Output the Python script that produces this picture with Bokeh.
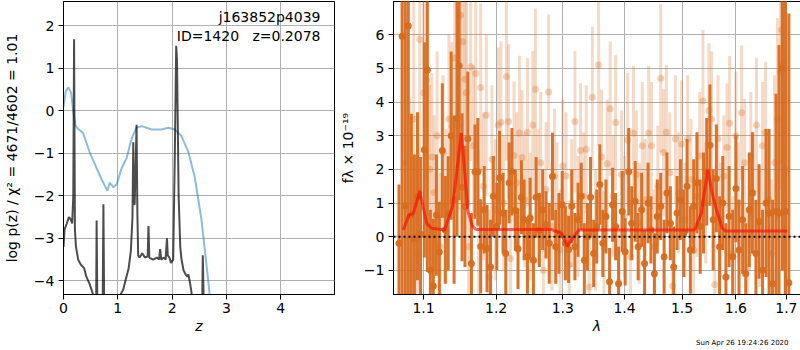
from bokeh.plotting import figure
from bokeh.layouts import row
from bokeh.models import (Range1d, FixedTicker, CustomJSTickFormatter, Label,
                          ColumnDataSource, Span, Title)
from bokeh.embed import file_html
from bokeh.resources import INLINE

# ---------------- left panel data: redshift PDF ----------------
pz_z = [0.00, 0.02, 0.06, 0.10, 0.13, 0.16, 0.18, 0.195, 0.21, 0.23, 0.27, 0.32,
        0.38, 0.42, 0.48, 0.54, 0.58, 0.60, 0.61, 0.625, 0.66, 0.70, 0.72, 0.735,
        0.75, 0.80, 0.90, 1.00, 1.04, 1.10, 1.15, 1.20, 1.24, 1.27, 1.285, 1.30,
        1.31, 1.325, 1.345, 1.36, 1.375, 1.40, 1.45, 1.50, 1.55, 1.565, 1.58, 1.65,
        1.72, 1.76, 1.78, 1.80, 1.85, 1.88, 1.905, 1.92, 1.95, 1.98, 2.02, 2.05,
        2.075, 2.09, 2.12, 2.15, 2.17, 2.21, 2.25, 2.28, 2.30, 2.33, 2.36, 2.40,
        2.50, 2.555, 2.565, 2.58, 2.62]
pz_log = [-3.2, -2.79, -2.65, -2.50, -2.55, -2.65, -2.0, 1.68, -2.8, -3.2, -3.5, -3.62,
          -3.7, -3.9, -4.07, -4.3, -4.6, -4.8, -2.58, -4.8, -5.2, -5.2, -4.8, -2.2,
          -4.8, -5.3, -5.4, -4.5, -4.35, -4.2, -3.95, -3.7, -3.3, -2.5, -0.74, -2.2,
          -2.2, -1.5, -0.33, -2.4, -3.4, -3.45, -3.35, -3.45, -3.42, -2.71, -3.45, -3.5,
          -3.45, -3.5, -3.25, -3.5, -3.45, -3.5, -3.0, -3.4, -3.45, -3.58, -3.5, -1.0,
          1.53, 1.2, -2.0, -3.2, -3.47, -3.75, -3.85, -3.9, -3.85, -4.05, -4.3, -4.6,
          -4.8, -4.4, -3.4, -4.4, -5.0]

prior_z = [0.00, 0.04, 0.09, 0.14, 0.18, 0.22, 0.27, 0.36, 0.48, 0.61, 0.70, 0.81,
           0.85, 0.92, 0.98, 1.07, 1.16, 1.25, 1.34, 1.44, 1.62, 1.80, 1.93, 2.05,
           2.17, 2.30, 2.42, 2.54, 2.62, 2.69, 2.80]
prior_log = [0.09, 0.45, 0.55, 0.42, -0.02, -0.35, -0.43, -0.52, -0.97, -1.35, -1.61, -1.88,
             -1.69, -1.80, -1.73, -1.35, -1.12, -0.67, -0.40, -0.36, -0.44, -0.44, -0.40, -0.44,
             -0.59, -0.97, -1.58, -2.56, -3.47, -4.3, -5.5]

# ---------------- right panel data: spectrum ----------------
d_wave = [1.068, 1.072, 1.076, 1.080, 1.084, 1.088, 1.092, 1.096, 1.101, 1.105,
          1.109, 1.113, 1.117, 1.121, 1.125, 1.129, 1.133, 1.137, 1.141, 1.145,
          1.148, 1.152, 1.156, 1.160, 1.165, 1.170, 1.174, 1.178, 1.183, 1.187,
          1.192, 1.196, 1.201, 1.205, 1.210, 1.214, 1.219, 1.223, 1.228, 1.232,
          1.237, 1.241, 1.246, 1.250, 1.255, 1.259, 1.264, 1.269, 1.274, 1.279,
          1.284, 1.289, 1.294, 1.299, 1.304, 1.309, 1.314, 1.319, 1.324, 1.329,
          1.334, 1.339, 1.344, 1.349, 1.354, 1.359, 1.364, 1.369, 1.375, 1.380,
          1.385, 1.390, 1.396, 1.401, 1.407, 1.412, 1.418, 1.423, 1.429, 1.434,
          1.440, 1.445, 1.451, 1.456, 1.462, 1.468, 1.473, 1.479, 1.485, 1.491,
          1.497, 1.503, 1.509, 1.515, 1.521, 1.527, 1.533, 1.539, 1.545, 1.551,
          1.557, 1.563, 1.569, 1.575, 1.581, 1.587, 1.594, 1.600, 1.606, 1.613,
          1.619, 1.626, 1.632, 1.639, 1.645, 1.652, 1.659, 1.665, 1.672, 1.679,
          1.685, 1.692, 1.698, 1.705]
d_flux = [-0.2, 5.96, 0.92, 6.26, 0.65, -0.06, 1.2, 0.07, 2.58, 4.95,
          -1.0, -1.47, 0.64, -0.46, 2.56, 0.2, 0.69, 3.0, 1.1, 3.51,
          5.08, 1.47, 0.9, 2.91, -0.8, 1.93, 1.93, -0.29, 0.8, -0.35,
          -0.9, 1.2, 0.3, 1.75, 0.7, -0.5, 1.6, 1.93, 0.78, -0.36,
          1.17, 0.5, -0.6, 0.55, -0.7, 1.17, 0.2, 0.8, 0.35, -0.2,
          1.79, -0.3, 0.1, 0.95, -0.2, -0.38, 0.9, -0.3, 0.5, 1.2,
          -0.7, 0.0, 1.17, -0.5, 0.3, 1.55, -0.2, 0.6, -1.34, 0.95,
          0.3, -1.4, 0.75, -0.45, 1.93, 0.4, 1.05, -0.3, 0.8, -0.8,
          1.0, 0.2, -1.1, 0.6, 0.9, -0.6, 1.3, 0.4, -0.9, 0.7,
          1.1, 0.1, 1.5, -0.4, 0.9, 1.6, 0.3, 1.0, 1.93, 2.72,
          0.5, 1.73, -0.3, 1.0, -1.2, 0.6, -0.6, 1.43, -0.4, 0.5,
          -1.1, 0.8, 1.3, -0.5, 0.45, -1.0, 1.0, 0.7, -1.4, 0.75,
          0.7, 5.0, 0.75, -1.37]
d_err = [1.75, 9.0, 8.0, 8.0, 3.0, 2.5, 2.5, 2.3, 3.2, 6.0,
         1.8, 2.0, 1.8, 1.5, 2.0, 1.6, 1.7, 2.5, 2.5, 3.5,
         4.0, 2.2, 1.8, 2.0, 1.5, 1.4, 1.6, 1.4, 1.3, 1.3,
         1.4, 1.2, 1.3, 1.4, 1.2, 1.3, 1.2, 1.3, 1.2, 1.2,
         1.1, 1.2, 1.1, 1.2, 1.1, 1.2, 1.1, 1.2, 1.0, 1.2,
         1.3, 1.1, 1.2, 1.0, 1.1, 1.0, 1.1, 1.0, 1.1, 1.0,
         1.1, 1.0, 1.2, 1.0, 1.1, 1.2, 1.0, 1.1, 1.0, 1.1,
         1.0, 1.1, 1.2, 1.0, 1.3, 1.1, 1.2, 1.0, 1.1, 1.0,
         1.2, 1.0, 1.2, 1.1, 1.0, 1.1, 1.2, 1.1, 1.2, 1.1,
         1.2, 1.3, 1.4, 1.3, 1.4, 1.5, 1.4, 1.5, 1.6, 1.8,
         1.5, 1.6, 1.5, 1.4, 1.6, 1.5, 1.4, 1.6, 1.5, 1.6,
         1.5, 1.7, 1.8, 1.6, 1.7, 1.8, 2.2, 2.5, 2.5, 3.5,
         5.0, 6.0, 8.0, 8.0]

l_wave = [1.077, 1.082, 1.087, 1.092, 1.095, 1.100, 1.104, 1.108, 1.111, 1.114,
          1.118, 1.122, 1.126, 1.130, 1.134, 1.138, 1.142, 1.147, 1.150, 1.153,
          1.156, 1.158, 1.161, 1.164, 1.168, 1.171, 1.175, 1.178, 1.182, 1.186,
          1.190, 1.194, 1.199, 1.203, 1.207, 1.211, 1.215, 1.218, 1.221, 1.226,
          1.230, 1.234, 1.238, 1.242, 1.246, 1.250, 1.254, 1.258, 1.262, 1.266,
          1.270, 1.274, 1.278, 1.283, 1.287, 1.291, 1.296, 1.300, 1.305, 1.310,
          1.314, 1.319, 1.324, 1.328, 1.333, 1.337, 1.342, 1.347, 1.352, 1.357,
          1.362, 1.366, 1.371, 1.376, 1.381, 1.385, 1.390, 1.395, 1.400, 1.405,
          1.410, 1.415, 1.420, 1.425, 1.430, 1.435, 1.441, 1.446, 1.451, 1.457,
          1.462, 1.467, 1.472, 1.478, 1.483, 1.488, 1.494, 1.499, 1.505, 1.510,
          1.516, 1.521, 1.527, 1.532, 1.538, 1.543, 1.549, 1.554, 1.560, 1.566,
          1.571, 1.577, 1.583, 1.588, 1.594, 1.600, 1.605, 1.611, 1.617, 1.623,
          1.629, 1.634, 1.640, 1.646, 1.652, 1.658, 1.664, 1.670, 1.676, 1.682,
          1.688, 1.690, 1.693, 1.697]
l_flux = [2.2, 0.6, 3.5, -0.5, 5.86, 4.28, 4.66, 2.0, 2.37, 1.31,
          3.0, -0.3, 2.5, 0.9, 3.5, 3.28, 5.31, 3.3, 6.58, 5.79,
          4.68, 4.28, -0.3, 5.05, 2.7, 4.85, 0.4, 4.43, 1.5, 3.61,
          -1.2, 2.3, 0.8, 3.32, 3.4, 1.0, 4.76, 3.42, -0.65, 2.41,
          1.6, 3.08, 2.35, 1.1, 3.1, 0.6, 3.32, 4.38, 1.2, 2.2,
          -1.0, 1.4, 4.3, 0.3, 1.8, 0.9, -0.4, 2.1, 1.8, -0.85,
          1.0, 3.42, 0.6, 2.56, 1.2, 2.6, -1.5, 4.14, 0.2, 5.1,
          2.37, -0.35, 2.17, 3.8, 1.2, 3.39, -1.36, 1.85, 0.6, 2.87,
          -0.6, 3.08, 1.85, 0.4, 2.7, 1.1, 3.08, 2.7, -0.3, 1.5,
          4.71, 2.5, 3.1, 1.9, -1.47, 2.9, 1.3, 2.75, 0.5, 2.9,
          1.7, -0.4, 1.2, 2.4, 4.04, 1.0, 3.75, 3.5, -1.42, 2.9,
          0.5, 1.8, 2.65, 3.37, -0.5, 3.0, 1.0, 3.68, 2.2, -0.9,
          2.4, 1.3, 3.32, 0.3, 2.7, 3.1, 1.1, -0.5, 2.2, 3.5,
          4.9, 6.15, 5.14, 2.0]
l_err = [4.5, 3.5, 3.5, 2.8, 3.5, 3.0, 3.0, 2.5, 2.5, 2.3,
         2.5, 2.2, 2.3, 2.3, 2.5, 2.5, 3.0, 2.5, 3.0, 3.0,
         3.0, 2.7, 2.3, 2.8, 2.4, 2.7, 2.2, 2.5, 2.2, 2.4,
         2.0, 2.2, 2.1, 2.3, 2.4, 2.0, 2.5, 2.3, 2.0, 2.2,
         2.1, 2.3, 2.0, 2.0, 2.2, 1.9, 2.2, 2.4, 2.0, 2.1,
         1.8, 2.0, 2.3, 1.9, 2.0, 1.9, 1.8, 2.0, 1.9, 1.7,
         1.9, 2.1, 1.8, 2.0, 1.9, 1.9, 1.8, 2.1, 1.8, 2.4,
         2.0, 1.7, 1.9, 2.0, 1.8, 2.0, 1.7, 1.9, 1.8, 2.0,
         1.7, 2.0, 1.9, 1.8, 1.9, 1.8, 2.0, 1.9, 1.7, 1.8,
         2.2, 1.9, 2.0, 1.8, 1.6, 1.9, 1.8, 1.9, 1.7, 1.9,
         1.8, 1.7, 1.8, 1.9, 2.1, 1.8, 2.0, 2.0, 1.7, 1.9,
         1.7, 1.8, 1.9, 2.0, 1.7, 1.9, 1.8, 2.0, 1.9, 1.7,
         1.9, 1.8, 2.0, 1.8, 1.9, 2.1, 2.0, 2.2, 2.6, 3.0,
         3.5, 4.0, 4.5, 5.0]

model_wave = [1.0735, 1.0807, 1.0865, 1.095, 1.104, 1.1106, 1.128, 1.1327, 1.139, 1.1445,
              1.151, 1.1557, 1.160, 1.1666, 1.172, 1.2825, 1.298, 1.307, 1.317, 1.3254,
              1.5228, 1.535, 1.5405, 1.547, 1.555, 1.5632, 1.574, 1.580, 1.7015]
model_flux = [0.2, 0.64, 0.69, 1.36, 0.4, 0.25, 0.2, 0.5, 0.9, 1.9,
              3.08, 1.9, 0.76, 0.3, 0.21, 0.21, 0.1, -0.29, 0.0, 0.2,
              0.2, 0.69, 1.3, 1.98, 1.3, 0.8, 0.25, 0.17, 0.17]

obj_name = "j163852p4039"
obj_info = "ID=1420\u00a0\u00a0\u00a0z=0.2078"
stamp = "Sun Apr 26 19:24:26 2020"

FONT = "DejaVu Sans"
ORANGE = "#d86c1e"
GRID = "#b0b0b0"
FH = 293      # frame height
BB = 56       # bottom border


def style(p):
    p.outline_line_color = "black"
    p.outline_line_width = 1
    p.outline_line_alpha = 1
    p.grid.grid_line_color = GRID
    p.grid.grid_line_width = 1
    for ax in p.axis:
        ax.axis_line_color = "black"
        ax.major_tick_line_color = "black"
        ax.major_tick_out = 5
        ax.major_tick_in = 0
        ax.minor_tick_line_color = None
        ax.major_label_text_font = FONT
        ax.major_label_text_font_size = "14px"
        ax.major_label_text_color = "black"
        ax.axis_label_text_font = FONT
        ax.axis_label_text_font_size = "14px"
        ax.axis_label_text_color = "black"
        ax.axis_label_text_font_style = "normal"
        ax.major_label_standoff = 4


minus_fmt = "return (tick < 0 ? '\u2212' : '') + Math.abs(tick).toString();"

# ---------------- left figure ----------------
p1 = figure(frame_width=271, frame_height=FH, min_border_left=62, min_border_right=1,
            min_border_top=1, min_border_bottom=BB,
            x_range=Range1d(0, 4.99), y_range=Range1d(-4.32, 2.57),
            output_backend="svg", toolbar_location=None)
style(p1)
p1.xaxis.ticker = FixedTicker(ticks=[0, 1, 2, 3, 4])
p1.yaxis.ticker = FixedTicker(ticks=[-4, -3, -2, -1, 0, 1, 2])
p1.xgrid.ticker = FixedTicker(ticks=[0, 1, 2, 3, 4])
p1.ygrid.ticker = FixedTicker(ticks=[-4, -3, -2, -1, 0, 1, 2])
p1.xaxis.formatter = CustomJSTickFormatter(code=minus_fmt)
p1.yaxis.formatter = CustomJSTickFormatter(code=minus_fmt)
p1.xaxis.axis_label = "z"
p1.xaxis.axis_label_text_font_style = "italic"
p1.xaxis.major_label_standoff = 3
p1.xaxis.axis_label_standoff = 2
p1.yaxis.axis_label = "log p(z) / \u03c7\u00b2 = 4671/4602 = 1.01"
p1.yaxis.axis_label_standoff = 11

p1.line(prior_z, prior_log, line_color="#1f77b4", line_alpha=0.5, line_width=2)
p1.line(pz_z, pz_log, line_color="black", line_alpha=0.7, line_width=2)

p1.add_layout(Label(x=257, y=FH - 15, x_units="screen", y_units="screen", text=obj_name,
                    text_align="right", text_baseline="middle", text_font=FONT,
                    text_font_size="14px", text_color="black"))
p1.add_layout(Label(x=257, y=FH - 34, x_units="screen", y_units="screen", text=obj_info,
                    text_align="right", text_baseline="middle", text_font=FONT,
                    text_font_size="14px", text_color="black"))

# ---------------- right figure ----------------
p2 = figure(frame_width=407, frame_height=FH, min_border_left=58, min_border_right=1,
            min_border_top=1, min_border_bottom=BB, x_axis_type="log",
            x_range=Range1d(1.061, 1.729), y_range=Range1d(-1.72, 6.99),
            output_backend="svg", toolbar_location=None)
style(p2)
wt = [1.1, 1.2, 1.3, 1.4, 1.5, 1.6, 1.7]
ft = [-1, 0, 1, 2, 3, 4, 5, 6]
p2.xaxis.ticker = FixedTicker(ticks=wt)
p2.xgrid.ticker = FixedTicker(ticks=wt)
p2.yaxis.ticker = FixedTicker(ticks=ft)
p2.ygrid.ticker = FixedTicker(ticks=ft)
p2.xaxis.formatter = CustomJSTickFormatter(code="return tick.toFixed(1);")
p2.yaxis.formatter = CustomJSTickFormatter(code=minus_fmt)
p2.xaxis.axis_label = "\u03bb"
p2.xaxis.axis_label_text_font_style = "italic"
p2.xaxis.major_label_standoff = 3
p2.xaxis.axis_label_standoff = 2
p2.yaxis.axis_label = "f\u03bb \u00d7 10\u207b\u00b9\u2079"
p2.yaxis.axis_label_standoff = 5

light = ColumnDataSource(dict(x=l_wave, y=l_flux,
                              lo=[f - e for f, e in zip(l_flux, l_err)],
                              hi=[f + e for f, e in zip(l_flux, l_err)]))
dark = ColumnDataSource(dict(x=d_wave, y=d_flux,
                             lo=[f - e for f, e in zip(d_flux, d_err)],
                             hi=[f + e for f, e in zip(d_flux, d_err)]))

p2.segment(x0="x", y0="lo", x1="x", y1="hi", source=light, line_color=ORANGE,
           line_alpha=0.25, line_width=3)
p2.scatter("x", "y", source=light, size=7, fill_color=ORANGE, fill_alpha=0.3,
           line_color=None)
p2.segment(x0="x", y0="lo", x1="x", y1="hi", source=dark, line_color=ORANGE,
           line_alpha=0.95, line_width=3)
p2.scatter("x", "y", source=dark, size=7, fill_color=ORANGE, fill_alpha=0.95,
           line_color=None)
p2.line(model_wave, model_flux, line_color="red", line_alpha=0.6, line_width=3)
p2.add_layout(Span(location=0, dimension="width", line_color="black",
                   line_width=2, line_dash="2 3"))

p2.add_layout(Title(text=stamp, align="right", text_font=FONT, text_font_size="7px",
                    text_font_style="normal", text_color="black", standoff=0,
                    offset=12), "below")

layout = row(p1, p2)
open("out.html", "w").write(file_html(layout, INLINE))
